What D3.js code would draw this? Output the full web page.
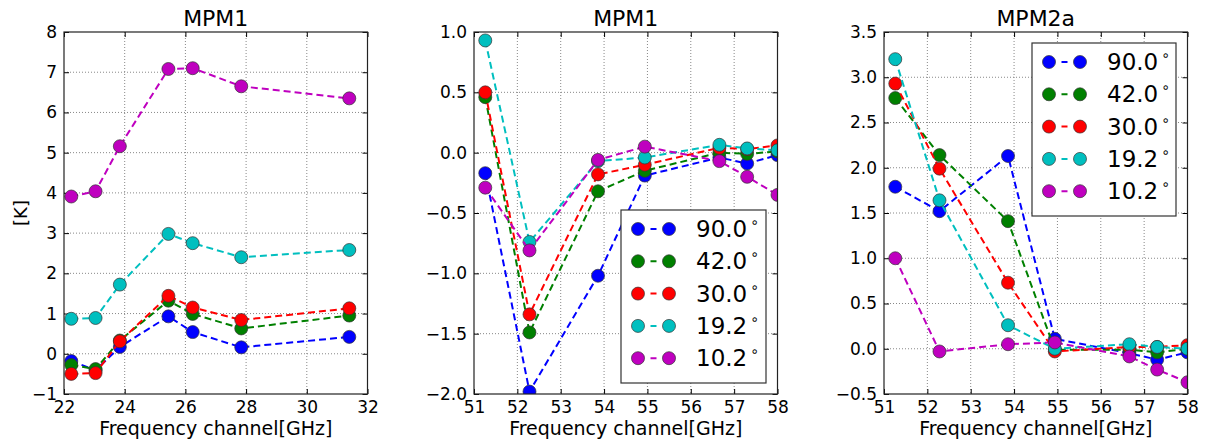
<!DOCTYPE html>
<html><head><meta charset="utf-8">
<script src="https://cdn.jsdelivr.net/npm/d3@7"></script>
<style>
html,body{margin:0;padding:0;background:#fff;}
svg{display:block;font-family:"DejaVu Sans",sans-serif;}
</style></head>
<body>
<svg id="chart" width="1210" height="443"></svg>
<script>
// ---- data ----
const seriesNames = ["90.0", "42.0", "30.0", "19.2", "10.2"];
const seriesColors = ["#0000ff", "#008000", "#ff0000", "#00bfbf", "#bf00bf"];

const kFreq = [22.24, 23.04, 23.84, 25.44, 26.24, 27.84, 31.40];
const vFreq = [51.26, 52.28, 53.86, 54.94, 56.66, 57.30, 58.00];

// Panel 1: MPM1 K-band
const p1_90 = [-0.18, -0.41, 0.17, 0.93, 0.54, 0.16, 0.42];
const p1_42 = [-0.28, -0.38, 0.33, 1.32, 0.99, 0.63, 0.95];
const p1_30 = [-0.50, -0.48, 0.31, 1.44, 1.15, 0.84, 1.13];
const p1_19 = [0.87, 0.89, 1.72, 2.98, 2.75, 2.40, 2.58];
const p1_10 = [3.91, 4.04, 5.16, 7.08, 7.10, 6.65, 6.35];

// Panel 2: MPM1 V-band
const p2_90 = [-0.17, -1.98, -1.02, -0.19, -0.04, -0.09, -0.02];
const p2_42 = [0.46, -1.49, -0.32, -0.15, 0.00, -0.01, 0.01];
const p2_30 = [0.50, -1.34, -0.18, -0.10, 0.04, 0.03, 0.06];
const p2_19 = [0.93, -0.74, -0.07, -0.04, 0.065, 0.035, 0.02];
const p2_10 = [-0.29, -0.81, -0.06, 0.05, -0.07, -0.20, -0.35];

// Panel 3: MPM2a V-band
const p3_90 = [1.79, 1.52, 2.13, 0.11, -0.05, -0.12, -0.04];
const p3_42 = [2.77, 2.14, 1.41, -0.01, -0.01, -0.04, 0.00];
const p3_30 = [2.93, 1.99, 0.73, -0.03, 0.02, 0.02, 0.04];
const p3_19 = [3.20, 1.64, 0.26, 0.00, 0.05, 0.02, 0.00];
const p3_10 = [1.00, -0.03, 0.05, 0.07, -0.085, -0.23, -0.37];

const xTicksK = [22, 24, 26, 28, 30, 32];
const xTicksV = [51, 52, 53, 54, 55, 56, 57, 58];
const yTicks1 = [-1, 0, 1, 2, 3, 4, 5, 6, 7, 8];
const yTicks2 = [-2.0, -1.5, -1.0, -0.5, 0.0, 0.5, 1.0];
const yTicks3 = [-0.5, 0.0, 0.5, 1.0, 1.5, 2.0, 2.5, 3.0, 3.5];

const panels = [
  {title: "MPM1", x: kFreq, ys: [p1_90, p1_42, p1_30, p1_19, p1_10], xDom: [22, 32], yDom: [-1, 8],
   xTicks: xTicksK, yTicks: yTicks1, yFmt: d3.format("d"), left: 64, right: 367.5, ylabel: "[K]", legend: null},
  {title: "MPM1", x: vFreq, ys: [p2_90, p2_42, p2_30, p2_19, p2_10], xDom: [51, 58], yDom: [-2, 1],
   xTicks: xTicksV, yTicks: yTicks2, yFmt: d3.format(".1f"), left: 474, right: 777.5, ylabel: null,
   legend: {x: 621, y: 210, w: 145, h: 173}},
  {title: "MPM2a", x: vFreq, ys: [p3_90, p3_42, p3_30, p3_19, p3_10], xDom: [51, 58], yDom: [-0.5, 3.5],
   xTicks: xTicksV, yTicks: yTicks3, yFmt: d3.format(".1f"), left: 884, right: 1187.5, ylabel: null,
   legend: {x: 1032, y: 43, w: 144, h: 173}}
];

const plotTop = 32, plotBottom = 394;
const svg = d3.select("#chart");
const minus = s => s.replace(/-/g, "\u2212");

panels.forEach(p => {
  const x = d3.scaleLinear().domain(p.xDom).range([p.left, p.right]);
  const y = d3.scaleLinear().domain(p.yDom).range([plotBottom, plotTop]);
  const g = svg.append("g");

  // grid
  g.append("g").selectAll("line").data(p.xTicks.slice(1, -1)).join("line")
    .attr("x1", d => x(d)).attr("x2", d => x(d)).attr("y1", plotTop).attr("y2", plotBottom)
    .attr("stroke", "#888").attr("stroke-width", 1).attr("stroke-dasharray", "1,2");
  g.append("g").selectAll("line").data(p.yTicks.slice(1, -1)).join("line")
    .attr("y1", d => y(d)).attr("y2", d => y(d)).attr("x1", p.left).attr("x2", p.right)
    .attr("stroke", "#888").attr("stroke-width", 1).attr("stroke-dasharray", "1,2");

  // axes (ticks inward, labels)
  const xAx = d3.axisBottom(x).tickValues(p.xTicks).tickSize(-5).tickPadding(7).tickFormat(d3.format("d"));
  const xAxT = d3.axisTop(x).tickValues(p.xTicks).tickSize(-5).tickFormat("");
  const yAx = d3.axisLeft(y).tickValues(p.yTicks).tickSize(-5).tickPadding(7).tickFormat(d => minus(p.yFmt(d)));
  const yAxR = d3.axisRight(y).tickValues(p.yTicks).tickSize(-5).tickFormat("");
  const styleAx = sel => {
    sel.select(".domain").remove();
    sel.selectAll("line").attr("stroke", "#000").attr("stroke-width", 1);
    sel.selectAll("text").attr("fill", "#000").style("font-size", "17px").style("font-family", "DejaVu Sans");
  };
  g.append("g").attr("transform", `translate(0,${plotBottom})`).call(xAx).call(styleAx);
  g.append("g").attr("transform", `translate(0,${plotTop})`).call(xAxT).call(styleAx);
  g.append("g").attr("transform", `translate(${p.left},0)`).call(yAx).call(styleAx);
  g.append("g").attr("transform", `translate(${p.right},0)`).call(yAxR).call(styleAx);

  // clip
  const cid = "clip" + Math.round(p.left);
  svg.append("clipPath").attr("id", cid).append("rect")
    .attr("x", p.left).attr("y", plotTop).attr("width", p.right - p.left).attr("height", plotBottom - plotTop);

  const line = d3.line().x(d => x(d[0])).y(d => y(d[1]));
  const plot = g.append("g").attr("clip-path", `url(#${cid})`);
  p.ys.forEach((vals, i) => {
    const pts = p.x.map((xv, j) => [xv, vals[j]]);
    plot.append("path").datum(pts).attr("d", line).attr("fill", "none")
      .attr("stroke", seriesColors[i]).attr("stroke-width", 2).attr("stroke-dasharray", "7,4");
    plot.append("g").selectAll("circle").data(pts).join("circle")
      .attr("cx", d => x(d[0])).attr("cy", d => y(d[1])).attr("r", 6.5)
      .attr("fill", seriesColors[i]).attr("stroke", "#333").attr("stroke-width", 0.7);
  });

  // frame
  g.append("rect").attr("x", p.left).attr("y", plotTop).attr("width", p.right - p.left).attr("height", plotBottom - plotTop)
    .attr("fill", "none").attr("stroke", "#222").attr("stroke-width", 1.2);

  // title
  g.append("text").attr("x", (p.left + p.right) / 2).attr("y", 26).attr("text-anchor", "middle")
    .style("font-size", "22px").text(p.title);
  // x label
  g.append("text").attr("x", (p.left + p.right) / 2).attr("y", 435).attr("text-anchor", "middle")
    .style("font-size", "19px").text("Frequency channel[GHz]");
  if (p.ylabel) {
    g.append("text").attr("transform", `translate(27,${(plotTop + plotBottom) / 2}) rotate(-90)`)
      .attr("text-anchor", "middle").style("font-size", "18px").text(p.ylabel);
  }

  // legend
  if (p.legend) {
    const L = p.legend;
    const lg = g.append("g");
    lg.append("rect").attr("x", L.x).attr("y", L.y).attr("width", L.w).attr("height", L.h)
      .attr("fill", "#fff").attr("stroke", "#333").attr("stroke-width", 1.2);
    seriesNames.forEach((name, i) => {
      const cy = L.y + 19 + i * 32.3;
      const x1 = L.x + 17, x2 = L.x + 48;
      lg.append("line").attr("x1", x1).attr("x2", x2).attr("y1", cy).attr("y2", cy)
        .attr("stroke", seriesColors[i]).attr("stroke-width", 2).attr("stroke-dasharray", "6,7")
        .attr("stroke-dashoffset", -12.5);
      [x1, x2].forEach(cx => lg.append("circle").attr("cx", cx).attr("cy", cy).attr("r", 6.5)
        .attr("fill", seriesColors[i]).attr("stroke", "#333").attr("stroke-width", 0.7));
      const t = lg.append("text").attr("x", L.x + 75).attr("y", cy + 8).style("font-size", "23px");
      t.append("tspan").text(name);
      t.append("tspan").attr("dy", -10).style("font-size", "14px").attr("dx", 3).text("\u2218");
    });
  }
});
</script>
</body></html>
